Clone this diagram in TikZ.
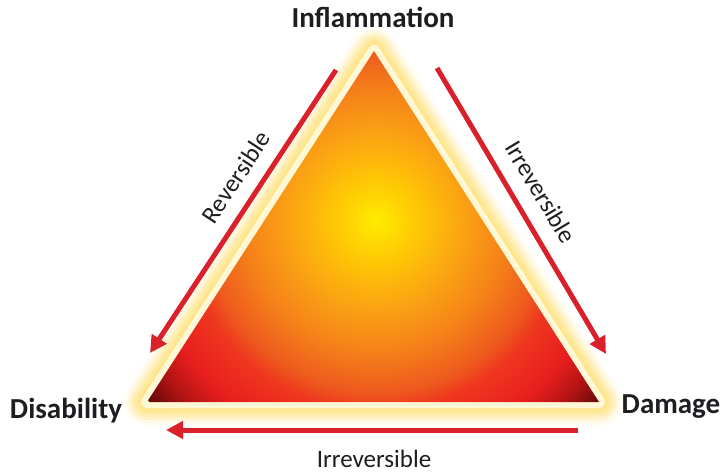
\documentclass[tikz,border=0pt]{standalone}
\usepackage{fontspec}
\setmainfont{Carlito}
\usetikzlibrary{arrows.meta}
\definecolor{arrowred}{RGB}{218,32,42}
\definecolor{glowc}{RGB}{255,230,140}
\definecolor{glowin}{RGB}{255,248,215}
\definecolor{txt}{RGB}{30,30,34}
\definecolor{sA}{RGB}{255,236,0}
\definecolor{sB}{RGB}{255,200,5}
\definecolor{sC}{RGB}{250,160,20}
\definecolor{sD}{RGB}{245,130,25}
\definecolor{sE}{RGB}{238,90,30}
\definecolor{sF}{RGB}{238,55,30}
\definecolor{sG}{RGB}{232,30,30}
\definecolor{sH}{RGB}{180,20,20}
\definecolor{sI}{RGB}{95,8,8}
\pgfdeclareradialshading{trishade}{\pgfpoint{0bp}{0bp}}{color(0bp)=(sA); color(3.5bp)=(sB); color(7.8bp)=(sC); color(11.2bp)=(sD); color(14.7bp)=(sE); color(16.4bp)=(sF); color(20bp)=(sG); color(22.4bp)=(sH); color(25bp)=(sI); color(50bp)=(sI)}
\tikzset{
  arr/.style={draw=arrowred, line width=5pt, -{Triangle[length=17pt,width=17pt]}},
  corner/.style={font=\fontsize{29}{34}\selectfont\bfseries, text=txt, inner sep=0pt},
  lab/.style={font=\fontsize{25}{30}\selectfont, text=txt, inner sep=0pt}
}
\begin{document}
\begin{tikzpicture}[x=1pt,y=-1pt]
\useasboundingbox[fill=white] (0,0) rectangle (725,473);
\coordinate (A) at (374,51);
\coordinate (B) at (147,402);
\coordinate (C) at (599,402);
% glow
\foreach \w/\o in {48/0.08, 42/0.14, 36/0.25, 30/0.4, 24/0.6, 18/0.85}
  \draw[line join=round, line width=\w pt, draw=glowc, opacity=\o] (A)--(B)--(C)--cycle;
\draw[line join=round, line width=12pt, draw=glowin] (A)--(B)--(C)--cycle;
% fill
\begin{scope}
  \clip (A)--(B)--(C)--cycle;
  \shade[shading=trishade] (376,221) circle[radius=290pt];
\end{scope}
% labels
\node[corner] (infl) at (373,17) {Inflammation};
\node[corner] (dis) at (66,411) {Disability};
\node[corner] (dam) at (671,407) {Damage};
% arrows
\coordinate (l1) at (336,70); \coordinate (l2) at (150,353);
\coordinate (r1) at (437,68); \coordinate (r2) at (606,354);
\coordinate (b1) at (578,430); \coordinate (b2) at (166,430);
\draw[arr] (l1) -- (l2);
\draw[arr] (r1) -- (r2);
\draw[arr] (b1) -- (b2);
\node[lab, rotate=56.7] (rev) at (236,177) {Reversible};
\node[lab, rotate=-59] (irr1) at (541,192) {Irreversible};
\node[lab] (irr2) at (374,459) {Irreversible};
\end{tikzpicture}
\end{document}
